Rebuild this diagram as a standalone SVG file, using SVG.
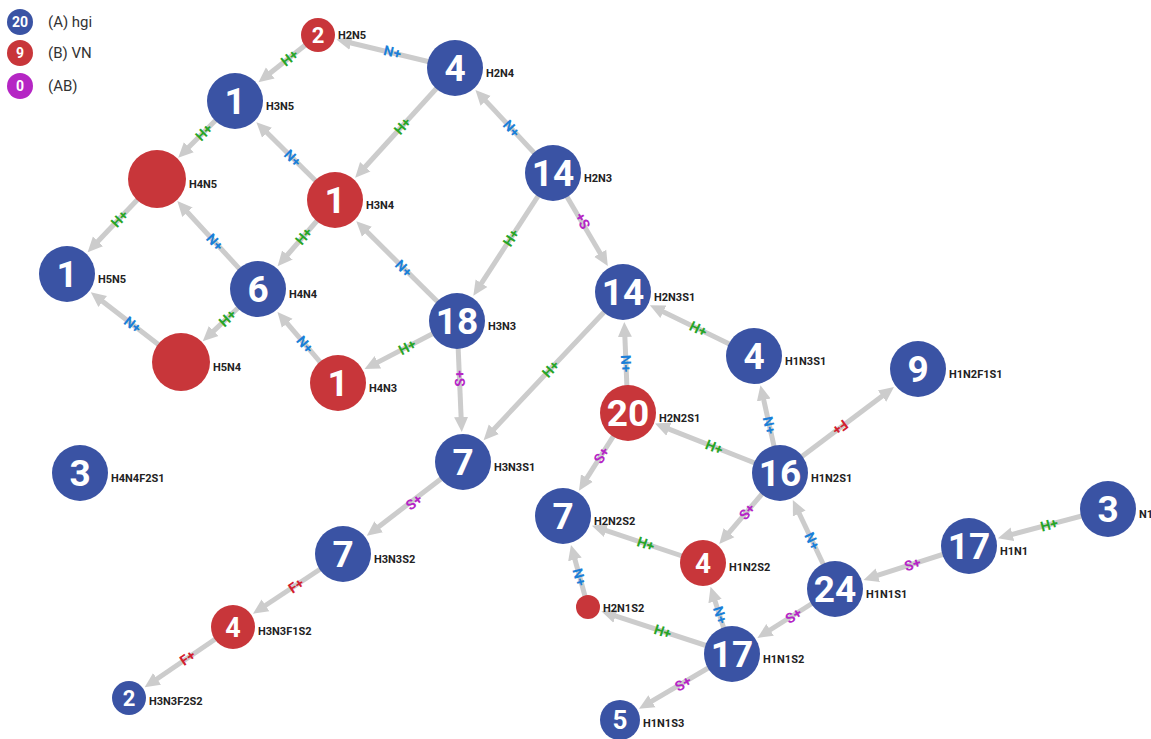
<svg xmlns="http://www.w3.org/2000/svg" width="1151" height="739" viewBox="0 0 1151 739">
<style>
.e{stroke:#cccccc;stroke-width:5;fill:none;marker-end:url(#arr)}
.l{font-family:Roboto,"Liberation Sans",sans-serif;font-weight:700;font-size:14px;text-anchor:middle;dominant-baseline:central}
.H{fill:#27a527}.N{fill:#1a7fd8}.S{fill:#b525c6}.F{fill:#d3202e}
.A{fill:#3a53a4}.B{fill:#c8363a}.C{fill:#b526c4}
.n{font-family:Roboto,"Liberation Sans",sans-serif;font-weight:700;fill:#fff;text-anchor:middle}
.t{font-family:Roboto,"Liberation Sans",sans-serif;font-weight:700;font-size:11px;fill:#222}
.g{font-family:Roboto,"Liberation Sans",sans-serif;font-size:15px;fill:#333}
</style>
<defs>
<marker id="arr" markerUnits="userSpaceOnUse" markerWidth="16" markerHeight="16" viewBox="0 0 16 16" refX="2" refY="8" orient="auto"><path d="M0,1 L15,8 L0,15 z" fill="#cccccc"/></marker>
</defs>
<rect width="1151" height="739" fill="#fff"/>
<g id="legend">
<circle cx="20" cy="22" r="13" class="A"/><text x="20" y="27" class="n" font-size="14">20</text><text x="48" y="27" class="g">(A) hgi</text>
<circle cx="20" cy="53" r="13" class="B"/><text x="20" y="58" class="n" font-size="14">9</text><text x="48" y="58" class="g">(B) VN</text>
<circle cx="20" cy="86" r="13" class="C"/><text x="20" y="91" class="n" font-size="14">0</text><text x="48" y="91" class="g">(AB)</text>
</g>
<g id="connectors">
<line class="e" x1="455" y1="68" x2="349.1" y2="42.5"/><text class="l N" transform="translate(392.5,52) rotate(13.5)">N+</text>
<line class="e" x1="318" y1="35" x2="268.7" y2="74.2"/><text class="l H" transform="translate(289.4,57.7) rotate(-38.5)">H+</text>
<line class="e" x1="455" y1="68" x2="363.9" y2="168.2"/><text class="l H" transform="translate(402.4,125.9) rotate(-47.7)">H+</text>
<line class="e" x1="553" y1="173" x2="484.3" y2="99.4"/><text class="l N" transform="translate(511.5,128.6) rotate(47)">N+</text>
<line class="e" x1="235" y1="101" x2="187.4" y2="148.6"/><text class="l H" transform="translate(203.8,132.2) rotate(-45)">H+</text>
<line class="e" x1="335" y1="200" x2="265.6" y2="131.3"/><text class="l N" transform="translate(292.8,158.2) rotate(44.7)">N+</text>
<line class="e" x1="553" y1="173" x2="480.4" y2="284.9"/><text class="l H" transform="translate(511,237.8) rotate(-57)">H+</text>
<line class="e" x1="553" y1="173" x2="601.2" y2="254.9"/><text class="l S" transform="translate(582.5,221) rotate(-120.5)">S+</text>
<line class="e" x1="157" y1="179" x2="96.6" y2="242.8"/><text class="l H" transform="translate(119.5,218.6) rotate(-46.5)">H+</text>
<line class="e" x1="258" y1="289" x2="186.1" y2="210.7"/><text class="l N" transform="translate(214.9,242.1) rotate(47.4)">N+</text>
<line class="e" x1="335" y1="200" x2="286.1" y2="256.5"/><text class="l H" transform="translate(303.7,236.2) rotate(-49.1)">H+</text>
<line class="e" x1="457" y1="321" x2="365.5" y2="230.3"/><text class="l N" transform="translate(403.8,268.3) rotate(44.8)">N+</text>
<line class="e" x1="181" y1="362" x2="101.1" y2="300.3"/><text class="l N" transform="translate(132.7,324.7) rotate(37.7)">N+</text>
<line class="e" x1="258" y1="289" x2="212.2" y2="332.4"/><text class="l H" transform="translate(227.4,318) rotate(-43.5)">H+</text>
<line class="e" x1="338" y1="383" x2="285.9" y2="321.8"/><text class="l N" transform="translate(305.1,344.4) rotate(49.6)">N+</text>
<line class="e" x1="457" y1="321" x2="376.1" y2="363.1"/><text class="l H" transform="translate(407.2,346.9) rotate(-27.5)">H+</text>
<line class="e" x1="457" y1="321" x2="461.2" y2="419"/><text class="l S" transform="translate(459.6,378.5) rotate(-92.4)">S+</text>
<line class="e" x1="623" y1="292" x2="492.5" y2="430.7"/><text class="l H" transform="translate(550.6,369) rotate(-46.7)">H+</text>
<line class="e" x1="628" y1="413" x2="624.8" y2="335"/><text class="l N" transform="translate(626,363.5) rotate(87.6)">N+</text>
<line class="e" x1="754" y1="356" x2="661.6" y2="310.9"/><text class="l H" transform="translate(698.4,328.8) rotate(26)">H+</text>
<line class="e" x1="780" y1="473" x2="763.3" y2="398"/><text class="l N" transform="translate(769.4,425.3) rotate(77.5)">N+</text>
<line class="e" x1="780" y1="473" x2="883.6" y2="394.9"/><text class="l F" transform="translate(840.2,427.6) rotate(143)">F+</text>
<line class="e" x1="780" y1="473" x2="667.1" y2="428.4"/><text class="l H" transform="translate(714.2,447.1) rotate(21.5)">H+</text>
<line class="e" x1="628" y1="413" x2="585.9" y2="479.7"/><text class="l S" transform="translate(601.4,455.2) rotate(-57.8)">S+</text>
<line class="e" x1="780" y1="473" x2="727.7" y2="534.1"/><text class="l S" transform="translate(747,511.5) rotate(-49.4)">S+</text>
<line class="e" x1="835" y1="589" x2="798.4" y2="511.8"/><text class="l N" transform="translate(812.2,541) rotate(64.6)">N+</text>
<line class="e" x1="1108" y1="509" x2="1010.5" y2="534.9"/><text class="l H" transform="translate(1049.2,524.7) rotate(-14.9)">H+</text>
<line class="e" x1="969" y1="546" x2="875.9" y2="575.9"/><text class="l S" transform="translate(912.4,564.2) rotate(-17.8)">S+</text>
<line class="e" x1="703" y1="563" x2="604.2" y2="529.8"/><text class="l H" transform="translate(645.8,543.8) rotate(18.6)">H+</text>
<line class="e" x1="588" y1="607" x2="574.4" y2="557.5"/><text class="l N" transform="translate(579.5,577) rotate(74.6)">N+</text>
<line class="e" x1="732" y1="654" x2="714.5" y2="599.2"/><text class="l N" transform="translate(720.1,615) rotate(72.3)">N+</text>
<line class="e" x1="835" y1="589" x2="768.4" y2="631"/><text class="l S" transform="translate(793.5,615.6) rotate(-32.2)">S+</text>
<line class="e" x1="732" y1="654" x2="613.7" y2="615.4"/><text class="l H" transform="translate(662.8,631.4) rotate(18.1)">H+</text>
<line class="e" x1="732" y1="654" x2="650.2" y2="702.2"/><text class="l S" transform="translate(683,683.5) rotate(-30.5)">S+</text>
<line class="e" x1="463" y1="462" x2="377.1" y2="527.9"/><text class="l S" transform="translate(414,502) rotate(-37.5)">S+</text>
<line class="e" x1="343" y1="554" x2="263.8" y2="606.5"/><text class="l F" transform="translate(296,585.5) rotate(-33.6)">F+</text>
<line class="e" x1="233" y1="627" x2="155.4" y2="680"/><text class="l F" transform="translate(187.5,657.7) rotate(-34.3)">F+</text>
</g>
<g id="H2N5"><circle cx="318" cy="35" r="17" class="B"/><text x="318" y="43" class="n" font-size="22">2</text><text x="338" y="39" class="t">H2N5</text></g>
<g id="H2N4"><circle cx="455" cy="68" r="28" class="A"/><text x="455" y="81" class="n" font-size="37">4</text><text x="486" y="77" class="t">H2N4</text></g>
<g id="H3N5"><circle cx="235" cy="101" r="28" class="A"/><text x="235" y="114" class="n" font-size="37">1</text><text x="266" y="110" class="t">H3N5</text></g>
<g id="H4N5"><circle cx="157" cy="179" r="29" class="B"/><text x="189" y="188" class="t">H4N5</text></g>
<g id="H3N4"><circle cx="335" cy="200" r="28" class="B"/><text x="335" y="213" class="n" font-size="37">1</text><text x="366" y="209" class="t">H3N4</text></g>
<g id="H2N3"><circle cx="553" cy="173" r="28" class="A"/><text x="553" y="186" class="n" font-size="37">14</text><text x="584" y="182" class="t">H2N3</text></g>
<g id="H5N5"><circle cx="67" cy="274" r="28" class="A"/><text x="67" y="287" class="n" font-size="37">1</text><text x="98" y="283" class="t">H5N5</text></g>
<g id="H4N4"><circle cx="258" cy="289" r="28" class="A"/><text x="258" y="302" class="n" font-size="37">6</text><text x="289" y="298" class="t">H4N4</text></g>
<g id="H5N4"><circle cx="181" cy="362" r="29" class="B"/><text x="213" y="371" class="t">H5N4</text></g>
<g id="H3N3"><circle cx="457" cy="321" r="28" class="A"/><text x="457" y="334" class="n" font-size="37">18</text><text x="488" y="330" class="t">H3N3</text></g>
<g id="H4N3"><circle cx="338" cy="383" r="28" class="B"/><text x="338" y="396" class="n" font-size="37">1</text><text x="369" y="392" class="t">H4N3</text></g>
<g id="H2N3S1"><circle cx="623" cy="292" r="28" class="A"/><text x="623" y="305" class="n" font-size="37">14</text><text x="654" y="301" class="t">H2N3S1</text></g>
<g id="H1N3S1"><circle cx="754" cy="356" r="28" class="A"/><text x="754" y="369" class="n" font-size="37">4</text><text x="785" y="365" class="t">H1N3S1</text></g>
<g id="H2N2S1"><circle cx="628" cy="413" r="28" class="B"/><text x="628" y="426" class="n" font-size="37">20</text><text x="659" y="422" class="t">H2N2S1</text></g>
<g id="H1N2F1S1"><circle cx="918" cy="369" r="28" class="A"/><text x="918" y="382" class="n" font-size="37">9</text><text x="949" y="378" class="t">H1N2F1S1</text></g>
<g id="H3N3S1"><circle cx="463" cy="462" r="28" class="A"/><text x="463" y="475" class="n" font-size="37">7</text><text x="494" y="471" class="t">H3N3S1</text></g>
<g id="H1N2S1"><circle cx="780" cy="473" r="28" class="A"/><text x="780" y="486" class="n" font-size="37">16</text><text x="811" y="482" class="t">H1N2S1</text></g>
<g id="H4N4F2S1"><circle cx="80" cy="473" r="28" class="A"/><text x="80" y="486" class="n" font-size="37">3</text><text x="111" y="482" class="t">H4N4F2S1</text></g>
<g id="H2N2S2"><circle cx="563" cy="516" r="28" class="A"/><text x="563" y="529" class="n" font-size="37">7</text><text x="594" y="525" class="t">H2N2S2</text></g>
<g id="H3N3S2"><circle cx="343" cy="554" r="28" class="A"/><text x="343" y="567" class="n" font-size="37">7</text><text x="374" y="563" class="t">H3N3S2</text></g>
<g id="H1N2S2"><circle cx="703" cy="563" r="23" class="B"/><text x="703" y="573" class="n" font-size="28">4</text><text x="729" y="571" class="t">H1N2S2</text></g>
<g id="N1"><circle cx="1108" cy="509" r="28" class="A"/><text x="1108" y="522" class="n" font-size="37">3</text><text x="1139" y="518" class="t">N1</text></g>
<g id="H1N1"><circle cx="969" cy="546" r="28" class="A"/><text x="969" y="559" class="n" font-size="37">17</text><text x="1000" y="555" class="t">H1N1</text></g>
<g id="H1N1S1"><circle cx="835" cy="589" r="28" class="A"/><text x="835" y="602" class="n" font-size="37">24</text><text x="866" y="598" class="t">H1N1S1</text></g>
<g id="H2N1S2"><circle cx="588" cy="607" r="12" class="B"/><text x="603" y="612" class="t">H2N1S2</text></g>
<g id="H1N1S2"><circle cx="732" cy="654" r="28" class="A"/><text x="732" y="667" class="n" font-size="37">17</text><text x="763" y="663" class="t">H1N1S2</text></g>
<g id="H3N3F1S2"><circle cx="233" cy="627" r="22" class="B"/><text x="233" y="637" class="n" font-size="27">4</text><text x="258" y="635" class="t">H3N3F1S2</text></g>
<g id="H3N3F2S2"><circle cx="129" cy="698" r="17" class="A"/><text x="129" y="706" class="n" font-size="22">2</text><text x="149" y="705" class="t">H3N3F2S2</text></g>
<g id="H1N1S3"><circle cx="620" cy="720" r="20" class="A"/><text x="620" y="729" class="n" font-size="26">5</text><text x="643" y="727" class="t">H1N1S3</text></g>
</svg>
